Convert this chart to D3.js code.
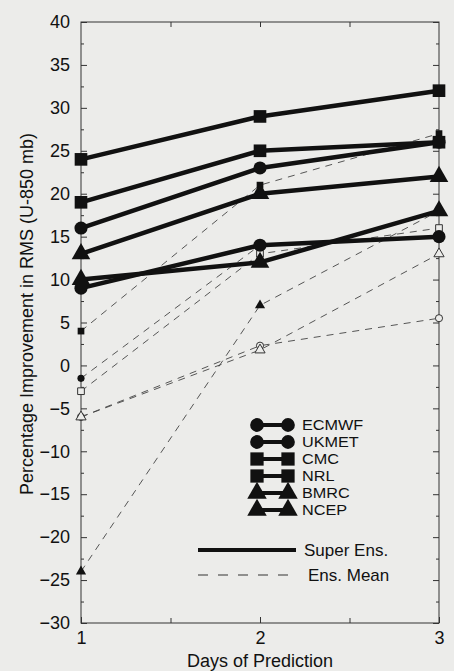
<!DOCTYPE html>
<html>
<head>
<meta charset="utf-8">
<script src="https://cdn.jsdelivr.net/npm/d3@7/dist/d3.min.js"></script>
<style>
  body { margin: 0; background: #ececea; }
  svg { display: block; }
  text { font-family: "Liberation Sans", Arial, Helvetica, sans-serif; fill: #111; }
</style>
</head>
<body>
<div id="chart"></div>
<script>
// Data
const days = [1, 2, 3];
const models = ["ECMWF", "UKMET", "CMC", "NRL", "BMRC", "NCEP"];
const shapes = ["circle", "circle", "square", "square", "triangle", "triangle"];
const superEns = [
    [16, 23, 26],   // ECMWF
    [9, 14, 15],    // UKMET
    [24, 29, 32],   // CMC
    [19, 25, 26],   // NRL
    [13, 20, 22],   // BMRC
    [10, 12, 18]    // NCEP
];
const ensMean = [
    [-1.5, 14, 15],
    [-6, 2.3, 5.5],
    [4, 21, 27],
    [-3, 13, 16],
    [-6, 1.8, 13],
    [-24, 7, 18]
];
const ensMeanFilled = [true, false, true, false, false, true];
const yMajor = [-30, -25, -20, -15, -10, -5, 0, 5, 10, 15, 20, 25, 30, 35, 40];

const width = 454, height = 671;
const bg = "#ececea", ink = "#111";

const svg = d3.select("#chart").append("svg")
    .attr("width", width)
    .attr("height", height);

const x = d3.scaleLinear().domain([1, 3]).range([81, 439]);
const y = d3.scaleLinear().domain([-30, 40]).range([623, 22]);

const symType = { circle: d3.symbolCircle, square: d3.symbolSquare, triangle: d3.symbolTriangle };
const bigSize = { circle: 135, square: 160, triangle: 150 };
const smallSize = { circle: 40, square: 45, triangle: 45 };

// frame
svg.append("rect")
    .attr("x", x(1)).attr("y", y(40))
    .attr("width", x(3) - x(1)).attr("height", y(-30) - y(40))
    .attr("fill", "none").attr("stroke", "#333").attr("stroke-width", 1);

const yMinor = d3.range(-27.5, 40, 5);
const xMinor = [1.5, 2.5];

function styleAxis(g) {
    g.select(".domain").remove();
    g.selectAll(".tick line").attr("stroke", "#333");
    g.selectAll("text").attr("font-size", 18).attr("fill", ink);
}

svg.append("g")
    .attr("transform", `translate(${x(1)},0)`)
    .call(d3.axisLeft(y).tickValues(yMajor).tickSize(-6).tickPadding(11).tickFormat(d3.format("d")))
    .call(styleAxis);
svg.append("g")
    .attr("transform", `translate(${x(1)},0)`)
    .call(d3.axisLeft(y).tickValues(yMinor).tickSize(-3).tickFormat(""))
    .call(styleAxis);
svg.append("g")
    .attr("transform", `translate(${x(3)},0)`)
    .call(d3.axisRight(y).tickValues(yMajor).tickSize(-6).tickFormat(""))
    .call(styleAxis);
svg.append("g")
    .attr("transform", `translate(${x(3)},0)`)
    .call(d3.axisRight(y).tickValues(yMinor).tickSize(-3).tickFormat(""))
    .call(styleAxis);

svg.append("g")
    .attr("transform", `translate(0,${y(-30)})`)
    .call(d3.axisBottom(x).tickValues(days).tickSize(-6).tickPadding(8).tickFormat(d3.format("d")))
    .call(styleAxis);
svg.append("g")
    .attr("transform", `translate(0,${y(-30)})`)
    .call(d3.axisBottom(x).tickValues(xMinor).tickSize(-5).tickFormat(""))
    .call(styleAxis);
svg.append("g")
    .attr("transform", `translate(0,${y(40)})`)
    .call(d3.axisTop(x).tickValues(xMinor.concat([2])).tickSize(-5).tickFormat(""))
    .call(styleAxis);

// axis titles
svg.append("text")
    .attr("x", (x(1) + x(3)) / 2)
    .attr("y", 667)
    .attr("text-anchor", "middle")
    .attr("font-size", 18)
    .text("Days of Prediction");

svg.append("text")
    .attr("transform", "translate(33,314) rotate(-90)")
    .attr("text-anchor", "middle")
    .attr("font-size", 18)
    .text("Percentage Improvement in RMS (U-850 mb)");

const line = d3.line()
    .x((d, i) => x(days[i]))
    .y(d => y(d));

// Ens. Mean (thin dashed)
svg.append("g").selectAll("path")
    .data(ensMean)
    .join("path")
    .attr("d", line)
    .attr("fill", "none")
    .attr("stroke", "#444")
    .attr("stroke-width", 0.9)
    .attr("stroke-dasharray", "7,6");

ensMean.forEach((vals, m) => {
    svg.append("g").selectAll("path")
        .data(vals)
        .join("path")
        .attr("transform", (d, i) => `translate(${x(days[i])},${y(d)})`)
        .attr("d", d3.symbol().type(symType[shapes[m]]).size(smallSize[shapes[m]]))
        .attr("fill", ensMeanFilled[m] ? ink : bg)
        .attr("stroke", ensMeanFilled[m] ? "none" : "#333")
        .attr("stroke-width", 1);
});

// Super Ens. (thick solid)
svg.append("g").selectAll("path")
    .data(superEns)
    .join("path")
    .attr("d", line)
    .attr("fill", "none")
    .attr("stroke", ink)
    .attr("stroke-width", 4.5)
    .attr("stroke-linejoin", "round");

superEns.forEach((vals, m) => {
    svg.append("g").selectAll("path")
        .data(vals)
        .join("path")
        .attr("transform", (d, i) => `translate(${x(days[i])},${y(d)})`)
        .attr("d", d3.symbol().type(symType[shapes[m]]).size(bigSize[shapes[m]]))
        .attr("fill", ink);
});

// legend
const legend = svg.append("g");
const rowY = d3.scaleLinear().domain([0, 5]).range([425, 510]);
models.forEach((name, i) => {
    const g = legend.append("g").attr("transform", `translate(0,${rowY(i)})`);
    g.append("line")
        .attr("x1", 257).attr("x2", 288)
        .attr("stroke", ink).attr("stroke-width", 4);
    [257, 288].forEach(cx => {
        g.append("path")
            .attr("transform", `translate(${cx},0)`)
            .attr("d", d3.symbol().type(symType[shapes[i]]).size(bigSize[shapes[i]] * 1.1))
            .attr("fill", ink);
    });
    g.append("text")
        .attr("transform", "translate(302,0) scale(1.12,1)")
        .attr("dy", "0.36em")
        .attr("font-size", 14.5)
        .text(name);
});

legend.append("line")
    .attr("x1", 198).attr("x2", 296).attr("y1", 550).attr("y2", 550)
    .attr("stroke", ink).attr("stroke-width", 4);
legend.append("text")
    .attr("x", 304).attr("y", 550).attr("dy", "0.36em")
    .attr("font-size", 17)
    .text("Super Ens.");
legend.append("line")
    .attr("x1", 198).attr("x2", 292).attr("y1", 575).attr("y2", 575)
    .attr("stroke", "#333").attr("stroke-width", 1)
    .attr("stroke-dasharray", "10,10");
legend.append("text")
    .attr("x", 308).attr("y", 575).attr("dy", "0.36em")
    .attr("font-size", 17)
    .text("Ens. Mean");
</script>
</body>
</html>
